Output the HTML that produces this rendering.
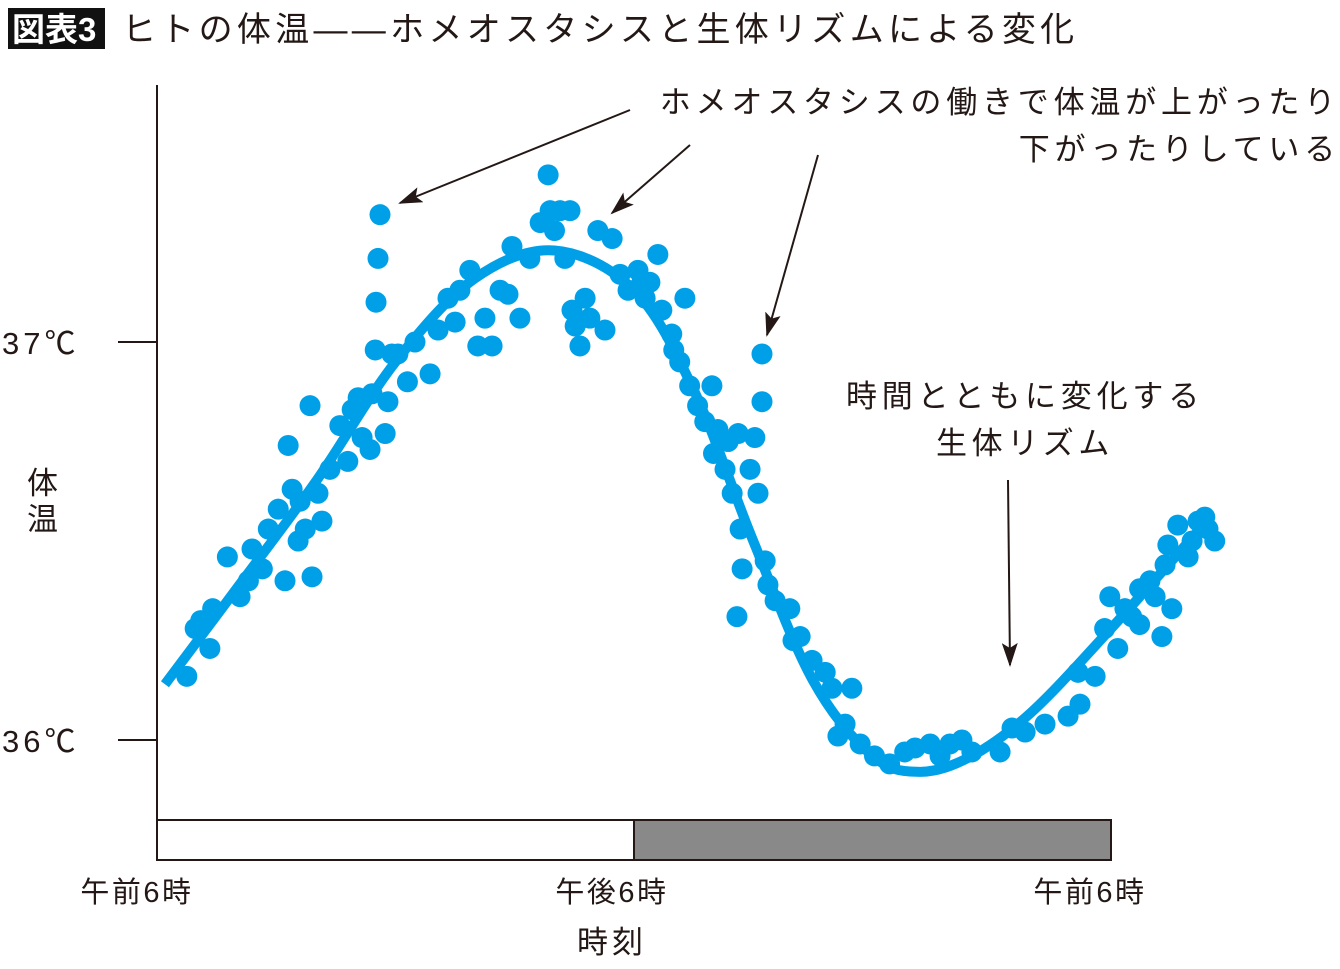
<!DOCTYPE html>
<html><head><meta charset="utf-8"><style>
body{margin:0;width:1340px;height:964px;background:#fff;overflow:hidden;font-family:"Liberation Sans","Noto Sans CJK JP",sans-serif;}
svg text{font-family:"Liberation Sans","Noto Sans CJK JP",sans-serif;fill:#231815;}
</style></head><body>
<svg id="chart" width="1340" height="964">
<rect x="8" y="8" width="97" height="41" fill="#111"/>
<text x="12" y="41" font-size="33" font-weight="bold" style="fill:#fff">図表3</text>
<text x="122" y="41" font-size="34" letter-spacing="4.3">ヒトの体温——ホメオスタシスと生体リズムによる変化</text>
<g id="marks"></g>
<line x1="157" y1="85" x2="157" y2="861" stroke="#231815" stroke-width="2"/>
<line x1="118" y1="342" x2="157" y2="342" stroke="#231815" stroke-width="2"/>
<line x1="118" y1="740" x2="157" y2="740" stroke="#231815" stroke-width="2"/>
<text x="2" y="354" font-size="31" letter-spacing="4">37℃</text>
<text x="2" y="752" font-size="31" letter-spacing="4">36℃</text>
<text x="27" y="494" font-size="31">体</text>
<text x="27" y="530" font-size="31">温</text>
<rect x="157" y="820" width="477" height="40" fill="#fff" stroke="#231815" stroke-width="2"/>
<rect x="634" y="820" width="477" height="40" fill="#898989" stroke="#231815" stroke-width="2"/>
<text x="137" y="902" font-size="29" letter-spacing="2.5" text-anchor="middle">午前6時</text>
<text x="612" y="902" font-size="29" letter-spacing="2.5" text-anchor="middle">午後6時</text>
<text x="1090" y="902" font-size="29" letter-spacing="2.5" text-anchor="middle">午前6時</text>
<text x="612" y="953" font-size="31" letter-spacing="4" text-anchor="middle">時刻</text>
<text x="1340" y="113" font-size="31" letter-spacing="4.8" text-anchor="end">ホメオスタシスの働きで体温が上がったり</text>
<text x="1340" y="160" font-size="31" letter-spacing="4.8" text-anchor="end">下がったりしている</text>
<text x="1025" y="407" font-size="31" letter-spacing="4.8" text-anchor="middle">時間とともに変化する</text>
<text x="1025" y="454" font-size="31" letter-spacing="4.6" text-anchor="middle">生体リズム</text>
<defs>
<marker id="ah2" markerWidth="24" markerHeight="16" refX="22" refY="8" orient="auto" markerUnits="userSpaceOnUse"><path d="M0,0 L24,8 L0,16 L5,8 z" fill="#231815"/></marker></defs>
<line x1="630" y1="110" x2="400" y2="203" stroke="#231815" stroke-width="2" marker-end="url(#ah2)"/>
<line x1="690" y1="145" x2="612" y2="213" stroke="#231815" stroke-width="2" marker-end="url(#ah2)"/>
<line x1="818" y1="155" x2="767" y2="335" stroke="#231815" stroke-width="2" marker-end="url(#ah2)"/>
<line x1="1008" y1="480" x2="1010" y2="665" stroke="#231815" stroke-width="2" marker-end="url(#ah2)"/>
</svg>
<script>
const curveHours=[0.2,2,4,6,8,10,12,13.5,15,16.5,18,19.2,20.5,22,24,26.5];
const curveTemps=[36.14,36.38,36.65,36.95,37.16,37.23,37.13,36.88,36.5,36.15,35.96,35.92,35.96,36.07,36.28,36.56];
const pointHours=[0.75,0.96,1.33,1.40,1.77,2.09,2.39,2.65,2.80,3.05,3.22,3.30,3.40,3.55,3.73,3.85,3.90,4.05,4.15,4.35,4.60,4.91,5.06,5.16,5.36,5.41,5.49,5.56,5.51,5.61,5.74,5.81,5.91,6.06,6.49,6.87,7.07,7.32,7.62,7.87,8.07,8.25,8.43,8.63,8.83,8.93,9.13,9.38,9.64,9.84,9.89,10.0,10.14,10.26,10.39,10.44,10.52,10.64,10.77,10.89,11.09,11.27,11.45,11.65,11.85,12.10,12.28,12.40,12.60,12.70,12.95,13.15,13.28,13.40,13.60,13.78,13.96,14.11,14.29,14.37,14.47,14.62,14.67,14.72,14.92,15.04,15.12,15.22,15.22,15.30,15.37,14.59,15.55,15.92,16.18,16.48,16.81,16.98,17.13,17.31,17.48,17.69,18.05,18.43,18.81,19.07,19.45,19.70,19.95,20.25,20.50,21.21,21.51,21.84,22.34,22.92,23.22,23.17,23.60,23.84,23.97,24.17,24.35,24.52,24.72,24.98,25.11,25.28,25.36,25.43,25.53,25.68,25.94,26.04,26.19,26.36,26.61,26.44,24.72,1.1,2.3,3.6,4.8,6.3,7.5,12.2,13.0,14.0,16.0];
const pointTemps=[36.16,36.28,36.23,36.33,36.46,36.36,36.48,36.43,36.53,36.58,36.40,36.74,36.63,36.50,36.53,36.84,36.41,36.62,36.55,36.68,36.79,36.83,36.86,36.76,36.73,36.87,36.98,37.21,37.10,37.32,36.77,36.85,36.97,36.97,37.00,36.92,37.03,37.11,37.13,37.18,36.99,37.06,36.99,37.13,37.12,37.24,37.06,37.21,37.30,37.42,37.33,37.28,37.33,37.21,37.33,37.08,37.04,36.99,37.11,37.06,37.28,37.03,37.26,37.17,37.13,37.18,37.11,37.15,37.22,37.08,37.02,36.95,37.11,36.89,36.84,36.80,36.89,36.78,36.68,36.75,36.62,36.77,36.53,36.43,36.68,36.76,36.62,36.97,36.85,36.45,36.39,36.31,36.35,36.33,36.26,36.20,36.17,36.13,36.01,36.04,36.13,35.99,35.96,35.94,35.97,35.98,35.99,35.96,35.99,36.00,35.97,35.97,36.03,36.02,36.04,36.06,36.09,36.17,36.16,36.28,36.36,36.23,36.33,36.31,36.29,36.40,36.36,36.26,36.44,36.49,36.33,36.54,36.46,36.50,36.55,36.56,36.50,36.53,36.38,36.30,36.40,36.60,36.70,36.90,37.05,37.15,36.98,36.72,36.25];
const xs=h=>157+h*39.75, ys=t=>342-(t-37)*398;
const NS="http://www.w3.org/2000/svg", g=document.getElementById('marks');
const P=curveHours.map((h,i)=>[xs(h),ys(curveTemps[i])]);
let d=`M${P[0][0]},${P[0][1]}`;
for(let i=0;i<P.length-1;i++){const p0=P[Math.max(0,i-1)],p1=P[i],p2=P[i+1],p3=P[Math.min(P.length-1,i+2)];
d+=` C${p1[0]+(p2[0]-p0[0])/6},${p1[1]+(p2[1]-p0[1])/6} ${p2[0]-(p3[0]-p1[0])/6},${p2[1]-(p3[1]-p1[1])/6} ${p2[0]},${p2[1]}`;}
const path=document.createElementNS(NS,'path');
path.setAttribute('d',d);path.setAttribute('fill','none');path.setAttribute('stroke','#00a0e9');path.setAttribute('stroke-width','10');


g.appendChild(path);
pointHours.forEach((h,i)=>{const c=document.createElementNS(NS,'circle');
c.setAttribute('cx',xs(h));c.setAttribute('cy',ys(pointTemps[i]));c.setAttribute('r','10.5');c.setAttribute('fill','#00a0e9');


g.appendChild(c);});
</script>
</body></html>
